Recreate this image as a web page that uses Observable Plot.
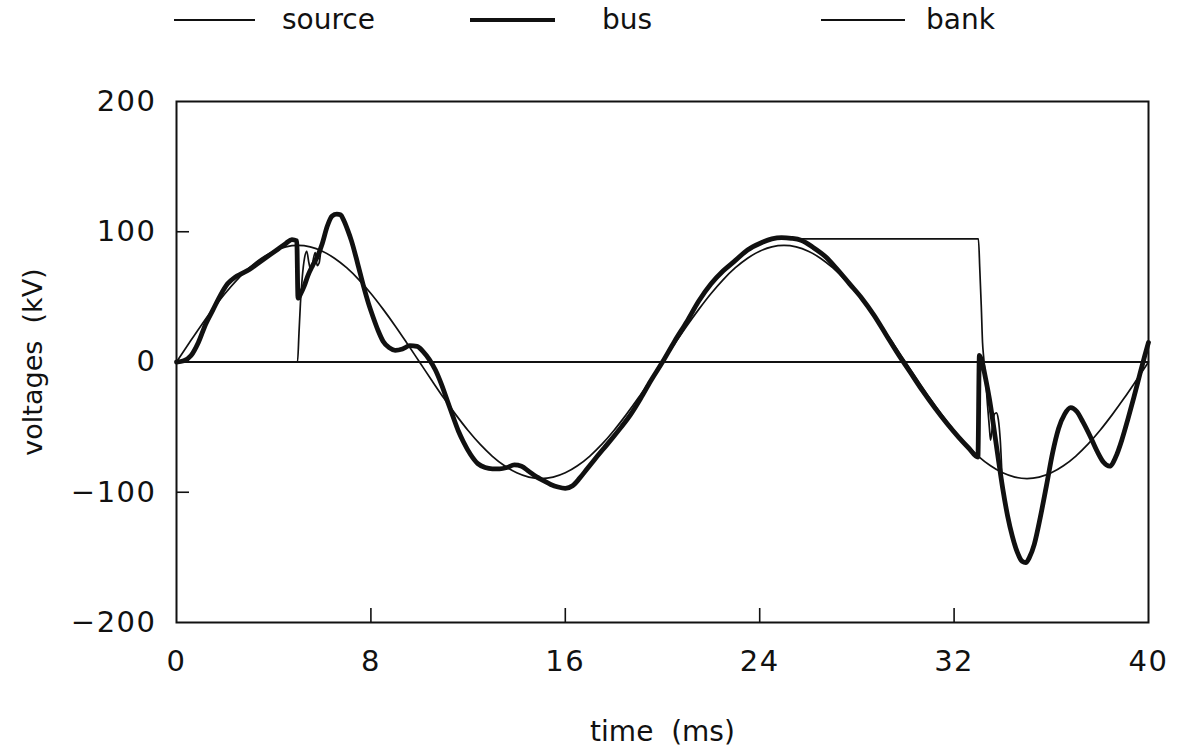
<!DOCTYPE html>
<html>
<head>
<meta charset="utf-8">
<script src="https://cdn.jsdelivr.net/npm/d3@7"></script>
<script src="https://cdn.jsdelivr.net/npm/@observablehq/plot@0.6"></script>
<style>
  html, body { margin: 0; padding: 0; background: #fff; }
  #legend { position: relative; width: 1178px; height: 50px; font-family: "DejaVu Sans", sans-serif; font-size: 28px; color: #111; }
  #legend .sw { position: absolute; background: #111; }
  #legend .lb { position: absolute; top: 6px; line-height: 28px; white-space: pre; }
  #chart svg { display: block; }
  #chart svg g[aria-label="x-axis tick label"] text,
  #chart svg g[aria-label="y-axis tick label"] text { letter-spacing: 1.5px; }
</style>
</head>
<body>
<div id="legend"></div>
<div id="chart"></div>
<script>
// ---- tick labels ----
const xTicks = [0, 8, 16, 24, 32, 40];
const yTicks = [-200, -100, 0, 100, 200];
const xInnerTicks = [8, 16, 24, 32];
const yInnerTicks = [-100, 100];

// ---- legend ----
const seriesNames = ["source", "bus", "bank"];

// ---- source voltage (kV) vs time (ms) ----
const sourceTime = [0,0.5,1,1.5,2,2.5,3,3.5,4,4.5,5,5.5,6,6.5,7,7.5,8,8.5,9,9.5,10,
  10.5,11,11.5,12,12.5,13,13.5,14,14.5,15,15.5,16,16.5,17,17.5,18,18.5,19,19.5,20,
  20.5,21,21.5,22,22.5,23,23.5,24,24.5,25,25.5,26,26.5,27,27.5,28,28.5,29,29.5,30,
  30.5,31,31.5,32,32.5,33,33.5,34,34.5,35,35.5,36,36.5,37,37.5,38,38.5,39,39.5,40];
const sourceKV = [0,14,27.7,40.6,52.6,63.3,72.4,79.7,85.1,88.4,89.5,88.4,85.1,79.7,72.4,63.3,52.6,40.6,27.7,14,0,
  -14,-27.7,-40.6,-52.6,-63.3,-72.4,-79.7,-85.1,-88.4,-89.5,-88.4,-85.1,-79.7,-72.4,-63.3,-52.6,-40.6,-27.7,-14,0,
  14,27.7,40.6,52.6,63.3,72.4,79.7,85.1,88.4,89.5,88.4,85.1,79.7,72.4,63.3,52.6,40.6,27.7,14,0,
  -14,-27.7,-40.6,-52.6,-63.3,-72.4,-79.7,-85.1,-88.4,-89.5,-88.4,-85.1,-79.7,-72.4,-63.3,-52.6,-40.6,-27.7,-14,0];

// ---- bus voltage ----
const busTime = [0,0.3,0.6,0.9,1.2,1.5,1.8,2.1,2.4,2.7,3.0,3.3,3.6,3.9,4.2,4.5,4.75,4.95,
  5.0,5.1,5.25,5.4,5.6,5.8,6.0,6.2,6.4,6.6,6.75,6.9,7.05,7.2,7.45,7.7,7.9,8.1,8.3,8.5,8.75,
  9.0,9.3,9.6,9.9,10.15,10.4,10.65,10.9,11.15,11.4,11.6,11.8,12.1,12.4,12.7,13.0,13.3,13.6,
  13.9,14.2,14.5,14.8,15.1,15.4,15.7,16.0,16.3,16.6,16.9,17.2,17.6,18.0,18.3,18.7,19.1,19.5,
  20.0,20.5,21.0,21.5,22.0,22.5,23.0,23.5,24.0,24.5,24.9,25.3,25.7,26.2,26.7,27.2,27.7,28.2,
  28.7,29.2,29.7,30.2,30.7,31.2,31.7,32.2,32.6,32.98,33.04,33.15,33.3,33.45,33.6,33.8,34.0,
  34.2,34.4,34.6,34.8,34.95,35.1,35.3,35.55,35.8,36.05,36.3,36.55,36.8,37.05,37.3,37.6,37.9,
  38.15,38.4,38.65,38.9,39.15,39.4,39.65,39.85,40.0];
const busKV = [0,1,5,15,29,40,51,60,65,68,71,75,79,83,87,91,94,93,
  49,52,58,66,74,81,91,104,112,113.5,113,108,101,93,76,58,45,34,24,16,11,
  9,10,12.5,12,8,2,-6,-17,-30,-43,-53,-61,-71,-78,-81,-82,-82,-81,
  -79,-80,-84,-88,-91,-94,-96,-97,-95,-89,-82,-75,-66,-57,-50,-40,-28,-15,
  0,16,31,47,60,70,78,86,91,94.5,95.5,95,93.5,88,81,71,60,49,
  36,21,6,-8,-22,-35,-47,-58,-66,-73,5,0,-13,-28,-46,-72,-97,
  -118,-134,-146,-153,-154,-150,-140,-119,-95,-70,-51,-40,-35,-38,-46,-57,-69,
  -77,-80,-73,-60,-44,-27,-9,5,15];

// ---- capacitor bank voltage ----
const bankTime = [0,4.98,5.04,5.1,5.18,5.27,5.36,5.45,5.54,5.63,5.71,5.79,5.87,5.95,6.05,6.2,6.4,
  6.6,6.75,6.9,7.05,7.2,7.45,7.7,7.9,8.1,8.3,8.5,8.75,9.0,9.3,9.6,9.9,10.15,10.4,10.65,10.9,
  11.15,11.4,11.6,11.8,12.1,12.4,12.7,13.0,13.3,13.6,13.9,14.2,14.5,14.8,15.1,15.4,15.7,16.0,
  16.3,16.6,16.9,17.2,17.6,18.0,18.3,18.7,19.1,19.5,20.0,20.5,21.0,21.5,22.0,22.5,23.0,23.5,
  24.0,24.5,24.9,25.1,33.0,33.06,33.12,33.17,33.22,33.3,33.37,33.45,33.5,33.58,33.66,33.74,
  33.82,33.9,34.0,34.2,34.4,34.6,34.8,34.95,35.1,35.3,35.55,35.8,36.05,36.3,36.55,36.8,37.05,
  37.3,37.6,37.9,38.15,38.4,38.65,38.9,39.15,39.4,39.65,39.85,40.0];
const bankKV = [0,0,22,45,66,80,85,76,70,79,84,74,76,87,96,104,112,
  113.5,113,108,101,93,76,58,45,34,24,16,11,9,10,12.5,12,8,2,-6,-17,
  -30,-43,-53,-61,-71,-78,-81,-82,-82,-81,-79,-80,-84,-88,-91,-94,-96,-97,
  -95,-89,-82,-75,-66,-57,-50,-40,-28,-15,0,16,31,47,60,70,78,86,
  91,94,95,94.5,94.5,70,42,15,3,-14,-32,-50,-60,-49,-40,-39,
  -44,-60,-96,-118,-134,-146,-153,-154,-150,-140,-119,-95,-70,-51,-40,-35,-38,
  -46,-57,-69,-77,-80,-73,-60,-44,-27,-9,5,15];

// ---- build tables ----
const toRows = (T, V) => T.map((t, i) => ({t, v: V[i]}));
const sourceRows = toRows(sourceTime, sourceKV);
const busRows = toRows(busTime, busKV);
const bankRows = toRows(bankTime, bankKV);

const INK = "#111";
const THIN = 1.7, THICK = 4.8;

// ---- legend (HTML above the SVG) ----
const legend = document.getElementById("legend");
const swatchX = [174, 470, 821];
const swatchW = [81, 85, 84];
const labelX = [282, 602, 926];
const swatchStroke = [THIN, THICK, THIN];
seriesNames.forEach((name, i) => {
  const sw = document.createElement("div");
  sw.className = "sw";
  sw.style.left = swatchX[i] + "px";
  sw.style.width = swatchW[i] + "px";
  sw.style.height = swatchStroke[i] + "px";
  sw.style.top = (20 - swatchStroke[i] / 2) + "px";
  legend.appendChild(sw);
  const lb = document.createElement("span");
  lb.className = "lb";
  lb.style.left = labelX[i] + "px";
  lb.textContent = name;
  legend.appendChild(lb);
});

// ---- chart ----
const chart = Plot.plot({
  width: 1178,
  height: 698,
  marginLeft: 176,
  marginRight: 30,
  marginTop: 51,
  marginBottom: 126,
  style: {fontFamily: "DejaVu Sans, sans-serif", fontSize: "29px", color: INK, background: "#fff"},
  x: {domain: [0, 40]},
  y: {domain: [-200, 200]},
  marks: [
    Plot.ruleY([0], {stroke: INK, strokeWidth: 1.8}),
    Plot.tickX(xInnerTicks, {x: d => d, stroke: INK, strokeWidth: 1.6, insetTop: 507}),
    Plot.tickY(yInnerTicks, {y: d => d, stroke: INK, strokeWidth: 1.6, insetRight: 959}),
    Plot.axisX(xTicks, {tickSize: 0, tickPadding: 28, label: null}),
    Plot.axisY(yTicks, {tickSize: 0, tickPadding: 20, label: null}),
    Plot.line(busRows, {x: "t", y: "v", stroke: INK, strokeWidth: THICK, curve: "monotone-x", strokeLinejoin: "round"}),
    Plot.line(sourceRows, {x: "t", y: "v", stroke: INK, strokeWidth: THIN, curve: "monotone-x"}),
    Plot.line(bankRows, {x: "t", y: "v", stroke: INK, strokeWidth: THIN, curve: "monotone-x"}),
    Plot.frame({stroke: INK, strokeWidth: 2}),
    Plot.text(["voltages\u00a0\u00a0(kV)"], {frameAnchor: "left", textAnchor: "middle", lineAnchor: "middle", rotate: -90, dx: -143, fontSize: 27, fill: INK}),
    Plot.text(["time\u00a0\u00a0(ms)"], {frameAnchor: "bottom", textAnchor: "middle", lineAnchor: "middle", dy: 110, fontSize: 28, fill: INK})
  ]
});
document.getElementById("chart").appendChild(chart);
</script>
</body>
</html>
